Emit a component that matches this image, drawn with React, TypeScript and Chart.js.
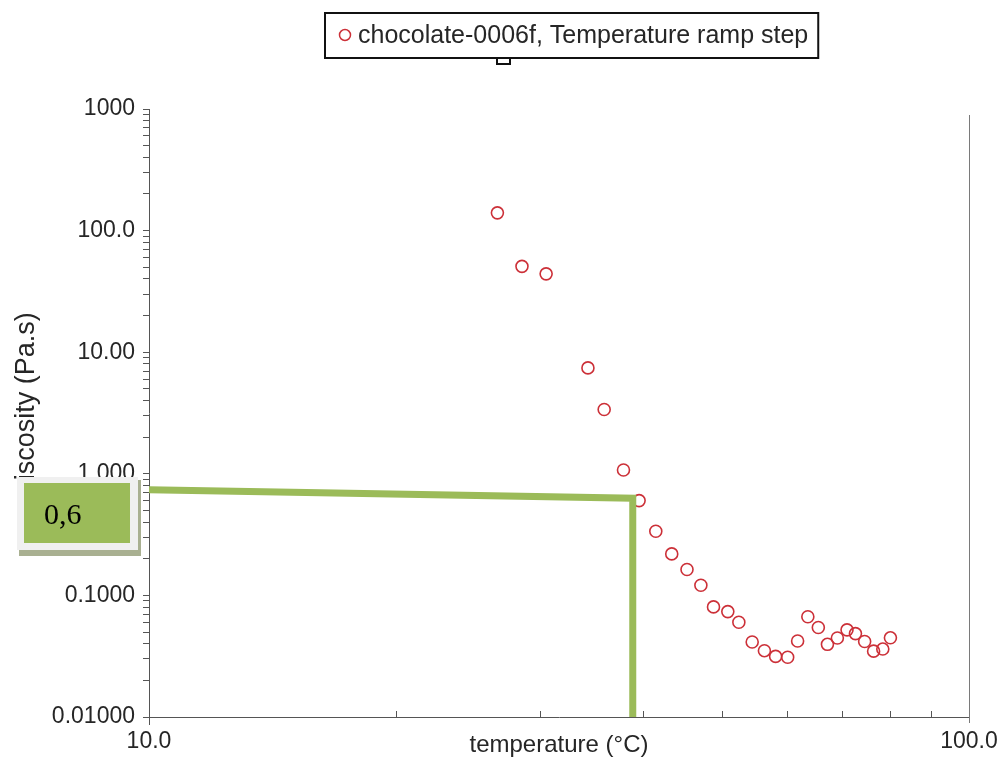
import React, { useEffect, useRef } from "react";
import { Chart, registerables } from "chart.js";

Chart.register(...registerables);

// ---- data ----
const seriesLabel = "chocolate-0006f, Temperature ramp step";
const temperatures = [26.6, 28.5, 30.5, 34.3, 35.9, 37.9, 39.6, 41.5, 43.4, 45.3, 47.1, 48.8, 50.8, 52.4, 54.4, 56.3, 58.1, 60.1, 61.8, 63.6, 65.5, 67.2, 69.1, 71.0, 72.7, 74.6, 76.5, 78.5, 80.2];
const viscosities = [140, 50.8, 44.1, 7.43, 3.38, 1.075, 0.602, 0.337, 0.2195, 0.1632, 0.1213, 0.0804, 0.0736, 0.0601, 0.0414, 0.0351, 0.0315, 0.031, 0.0422, 0.0668, 0.0544, 0.0396, 0.0446, 0.0521, 0.0485, 0.0418, 0.0348, 0.0362, 0.0448];

// hand-drawn green reading line and its label
const markerTemps = [10, 38.9, 38.9];
const markerVisc = [0.74, 0.63, 0.01];
const markerLabel = "0,6";

// axis ticks
const xTickValues = [10, 100];
const xTickLabels = ["10.0", "100.0"];
const xMinorTicks = [20, 30, 40, 50, 60, 70, 80, 90];
const yTickValues = [0.01, 0.1, 1, 10, 100, 1000];
const yTickLabels = ["0.01000", "0.1000", "1.000", "10.00", "100.0", "1000"];
const yMinorFactors = [1, 2, 3, 4, 5, 6, 7, 8, 9];

const xTitle = "temperature (°C)";
const yTitle = "viscosity (Pa.s)";

const FONT = "'Liberation Sans', Arial, Helvetica, sans-serif";
const SERIF = "'Liberation Serif', 'Times New Roman', serif";
const RED = "#cc3038";
const GREEN = "#9bbb59";
const TXT = "#262626";
const AX = "#555555";

function labelFor(values: number[], labels: string[], v: number) {
  const i = values.findIndex((t) => Math.abs(Math.log10(t) - Math.log10(v)) < 1e-6);
  return i >= 0 ? labels[i] : "";
}

export default function App() {
  const ref = useRef<HTMLCanvasElement>(null);

  useEffect(() => {
    const canvas = ref.current!;
    const yTicks: number[] = [];
    for (let d = 0; d < yTickValues.length; d++) {
      const dec = yTickValues[d];
      if (d === yTickValues.length - 1) {
        yTicks.push(dec);
      } else {
        for (const f of yMinorFactors) yTicks.push(+(dec * f).toPrecision(6));
      }
    }
    const xTicks = [xTickValues[0], ...xMinorTicks, xTickValues[1]];

    const overlay = {
      id: "overlay",
      afterDraw(chart: any) {
        const ctx = chart.ctx as CanvasRenderingContext2D;
        const { left, right, top, bottom } = chart.chartArea;
        const xs = chart.scales.x;
        ctx.save();
        // right frame line
        ctx.strokeStyle = "#7a7a7a";
        ctx.lineWidth = 1;
        ctx.beginPath();
        ctx.moveTo(Math.round(right) + 0.5, top + 6);
        ctx.lineTo(Math.round(right) + 0.5, bottom + 6);
        ctx.stroke();
        // left axis extension below x axis
        ctx.strokeStyle = AX;
        ctx.beginPath();
        ctx.moveTo(Math.round(left) + 0.5, bottom);
        ctx.lineTo(Math.round(left) + 0.5, bottom + 8);
        ctx.stroke();
        // x minor ticks pointing inward
        ctx.beginPath();
        for (const v of xMinorTicks) {
          const px = Math.round(xs.getPixelForValue(v)) + 0.5;
          ctx.moveTo(px, bottom);
          ctx.lineTo(px, bottom - 6);
        }
        ctx.stroke();

        // y axis title (rotated)
        ctx.save();
        ctx.translate(27, 403);
        ctx.rotate(-Math.PI / 2);
        ctx.font = `27px ${FONT}`;
        ctx.fillStyle = TXT;
        ctx.textAlign = "center";
        ctx.textBaseline = "middle";
        ctx.fillText(yTitle, 0, 0);
        ctx.restore();

        // legend box
        ctx.font = `25px ${FONT}`;
        const label = chart.data.datasets[1].label as string;
        const tw = ctx.measureText(label).width;
        const bx = 325, by = 13, tx = 358, bh = 45;
        const bw = tx + tw + 10 - bx;
        ctx.fillStyle = "#ffffff";
        ctx.fillRect(bx, by, bw, bh);
        ctx.lineWidth = 2;
        ctx.strokeStyle = "#111111";
        ctx.strokeRect(bx, by, bw, bh);
        ctx.beginPath();
        ctx.arc(345, 35, 5.5, 0, Math.PI * 2);
        ctx.strokeStyle = RED;
        ctx.lineWidth = 1.5;
        ctx.stroke();
        ctx.fillStyle = TXT;
        ctx.textAlign = "left";
        ctx.textBaseline = "middle";
        ctx.fillText(label, tx, 36);
        // small square under the legend
        ctx.fillStyle = "#ffffff";
        ctx.fillRect(497, 58, 13, 6);
        ctx.strokeStyle = "#111111";
        ctx.lineWidth = 2;
        ctx.strokeRect(497, 58, 13, 6);

        // "0,6" label box
        ctx.fillStyle = "#a9b091";
        ctx.fillRect(19, 480, 122, 76);
        ctx.fillStyle = "#f0f0f0";
        ctx.fillRect(17, 477, 121, 73);
        ctx.fillStyle = GREEN;
        ctx.fillRect(24, 483, 106, 60);
        ctx.fillStyle = "#000000";
        ctx.font = `30px ${SERIF}`;
        ctx.textBaseline = "alphabetic";
        ctx.fillText(markerLabel, 44, 524);
        ctx.restore();
      },
    };

    const chart = new Chart(canvas, {
      type: "scatter",
      data: {
        datasets: [
          {
            label: "reading",
            data: markerTemps.map((x, i) => ({ x, y: markerVisc[i] })),
            showLine: true,
            borderColor: GREEN,
            backgroundColor: GREEN,
            borderWidth: 7,
            pointRadius: 0,
            pointHoverRadius: 0,
            borderCapStyle: "butt",
            borderJoinStyle: "miter",
            clip: false,
            order: 0,
          } as any,
          {
            label: seriesLabel,
            data: temperatures.map((x, i) => ({ x, y: viscosities[i] })),
            pointStyle: "circle",
            pointRadius: 6,
            pointBorderWidth: 1.6,
            borderColor: RED,
            backgroundColor: "rgba(0,0,0,0)",
            order: 1,
          } as any,
        ],
      },
      options: {
        animation: false,
        responsive: false,
        events: [],
        layout: { padding: { left: 0, right: 29, top: 109, bottom: 0 } },
        plugins: { legend: { display: false }, tooltip: { enabled: false } },
        scales: {
          x: {
            type: "logarithmic",
            min: 10,
            max: 100,
            position: "bottom",
            afterBuildTicks(s: any) {
              s.ticks = xTicks.map((value) => ({ value }));
            },
            afterFit(s: any) {
              s.height = 46;
              s.paddingLeft = 0;
              s.paddingRight = 0;
            },
            grid: { display: false, drawTicks: false, drawOnChartArea: false },
            border: { display: true, color: AX, width: 1 },
            ticks: {
              autoSkip: false,
              maxRotation: 0,
              minRotation: 0,
              padding: 11,
              color: TXT,
              font: { family: FONT, size: 23 },
              callback: (v: any) => labelFor(xTickValues, xTickLabels, Number(v)),
            },
            title: {
              display: true,
              text: xTitle,
              color: TXT,
              font: { family: FONT, size: 24 },
              padding: { top: 0, bottom: 3 },
            },
          },
          y: {
            type: "logarithmic",
            min: 0.01,
            max: 1000,
            afterBuildTicks(s: any) {
              s.ticks = yTicks.map((value) => ({ value }));
            },
            afterFit(s: any) {
              s.width = 149;
              s.paddingTop = 0;
              s.paddingBottom = 0;
            },
            grid: {
              drawOnChartArea: false,
              drawTicks: true,
              tickLength: 6,
              color: AX,
              tickColor: AX,
              tickWidth: 1,
            },
            border: { display: true, color: AX, width: 1 },
            ticks: {
              autoSkip: false,
              padding: 8,
              color: TXT,
              font: { family: FONT, size: 23 },
              callback: (v: any) => labelFor(yTickValues, yTickLabels, Number(v)),
            },
            title: { display: false },
          },
        },
      } as any,
      plugins: [overlay],
    });
    return () => chart.destroy();
  }, []);

  return (
    <div style={{ position: "fixed", left: 0, top: 0, width: 998, height: 763, background: "#ffffff" }}>
      <canvas ref={ref} width={998} height={763} style={{ display: "block", width: 998, height: 763 }} />
    </div>
  );
}
